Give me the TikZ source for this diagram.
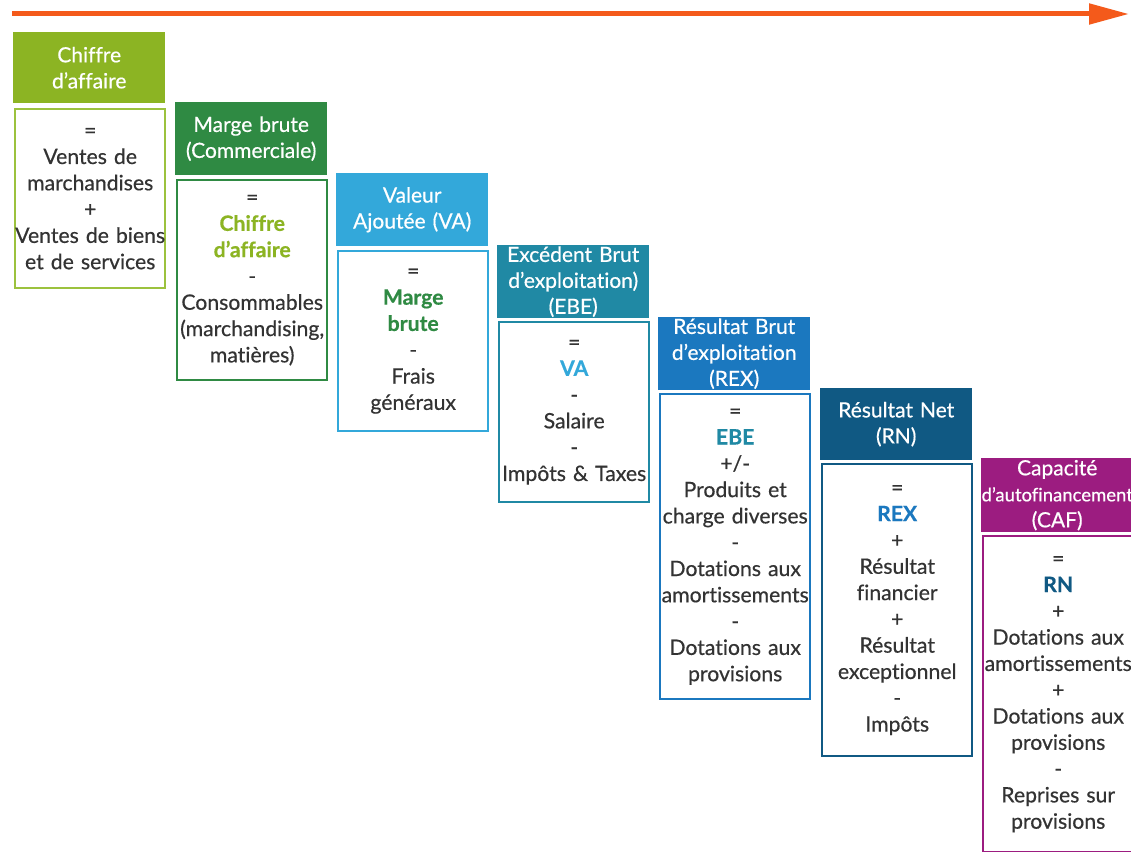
\documentclass[tikz,border=0pt]{standalone}
\usepackage{fontspec}
\setmainfont{Lato}[Ligatures=NoCommon, WordSpace=0.6, UprightFeatures={FakeBold=0.5}, BoldFeatures={FakeBold=0.5}]
\usetikzlibrary{arrows.meta}
\definecolor{cA}{HTML}{8CB423}
\definecolor{cAl}{HTML}{9CC23E}
\definecolor{cB}{HTML}{2F8A43}
\definecolor{cC}{HTML}{33A8DA}
\definecolor{cD}{HTML}{2089A4}
\definecolor{cE}{HTML}{1B78BF}
\definecolor{cF}{HTML}{105983}
\definecolor{cG}{HTML}{9C1C80}
\definecolor{txt}{HTML}{333333}
\definecolor{arr}{HTML}{F45A1B}
\tikzset{
  hdr/.style={anchor=north west, inner ysep=0pt, inner xsep=-5pt, text width=162pt, align=center,
    minimum height=72pt, text=white, font=\fontsize{21}{26}\selectfont},
  bodybox/.style={anchor=north west, inner ysep=0pt, inner xsep=-5pt, text width=160pt, align=center,
    line width=2.4pt, text=txt, font=\fontsize{21.2}{26.3}\selectfont},
  flow/.style={draw=arr, line width=5pt, -{Triangle[length=40pt,width=20pt]}}
}
\begin{document}
\begin{tikzpicture}[x=1pt,y=1pt]
\useasboundingbox (0,0) rectangle (1131,-851);
\fill[white] (0,0) rectangle (1131,-851);
% arrow
\coordinate (a0) at (12,-14);
\coordinate (a1) at (1129,-14);
\draw[flow] (a0) -- (a1);
% box 1
\node[hdr, fill=cA, minimum height=71pt] (h1) at (13,-32) {Chiffre\\d’affaire};
\node[bodybox, draw=cAl, minimum height=179pt] (b1) at (14,-108)
  {=\\Ventes de\\marchandises\\+\\Ventes de biens\\et de services};
% box 2
\node[hdr, fill=cB, minimum height=73pt] (h2) at (175,-102) {Marge brute\\(Commerciale)};
\node[bodybox, draw=cB, minimum height=200pt] (b2) at (176,-179)
  {=\\{\bfseries\color{cA}Chiffre\\d’affaire}\\-\\Consommables\\(marchandising,\\matières)};
% box 3
\node[hdr, fill=cC, minimum height=73pt] (h3) at (336,-173) {Valeur\\Ajoutée (VA)};
\node[bodybox, draw=cC, minimum height=180pt] (b3) at (337,-250)
  {=\\{\bfseries\color{cB}Marge\\brute}\\-\\Frais\\généraux};
% box 4
\node[hdr, fill=cD, minimum height=73pt] (h4) at (497,-245) {Excédent Brut\\d’exploitation)\\(EBE)};
\node[bodybox, draw=cD, minimum height=180pt] (b4) at (498,-321)
  {=\\{\bfseries\color{cC}VA}\\-\\Salaire\\-\\Impôts \& Taxes};
% box 5
\node[hdr, fill=cE, minimum height=73pt] (h5) at (658,-317) {Résultat Brut\\d’exploitation\\(REX)};
\node[bodybox, draw=cE, minimum height=305pt] (b5) at (659,-393)
  {=\\{\bfseries\color{cD}EBE}\\+/-\\Produits et\\charge diverses\\-\\Dotations aux\\amortissements\\-\\Dotations aux\\provisions};
% box 6
\node[hdr, fill=cF, minimum height=72pt] (h6) at (820,-388) {Résultat Net\\(RN)};
\node[bodybox, draw=cF, minimum height=292pt] (b6) at (821,-463)
  {=\\{\bfseries\color{cE}REX}\\+\\Résultat\\financier\\+\\Résultat\\exceptionnel\\-\\Impôts};
% box 7
\node[hdr, fill=cG, minimum height=74pt] (h7) at (981,-458) {Capacité\\{\fontsize{18.5}{22}\selectfont d’autofinancement}\\(CAF)};
\node[bodybox, draw=cG, minimum height=316pt] (b7) at (982,-535)
  {=\\{\bfseries\color{cF}RN}\\+\\Dotations aux\\amortissements\\+\\Dotations aux\\provisions\\-\\Reprises sur\\provisions};
\end{tikzpicture}
\end{document}
